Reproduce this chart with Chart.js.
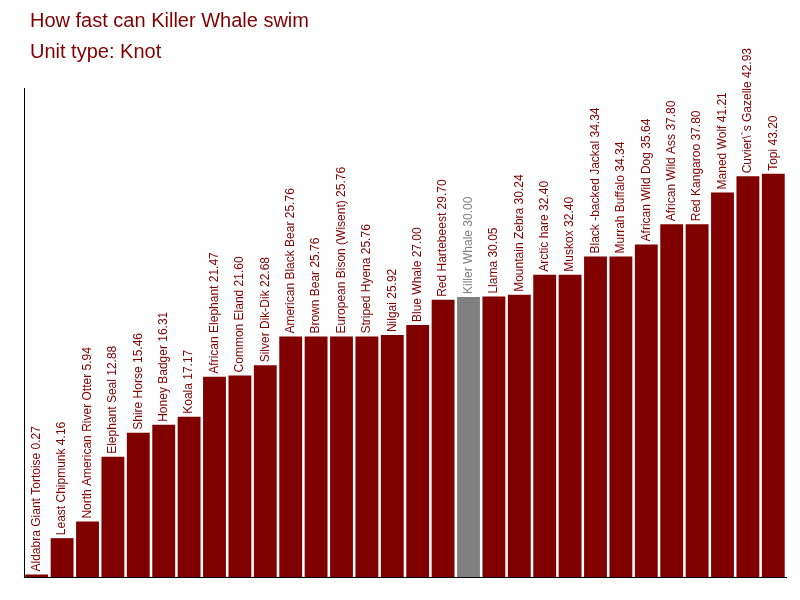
<!DOCTYPE html>
<html>
<head>
<meta charset="utf-8">
<script src="https://cdn.jsdelivr.net/npm/chart.js@4/dist/chart.umd.min.js"></script>
<style>
  body { margin: 0; background: #fff; font-family: "Liberation Sans", Arial, sans-serif; }
  #wrap { position: relative; width: 800px; height: 600px; }
  .t { position: absolute; left: 30px; color: #800000; font-size: 20px; }
</style>
</head>
<body>
<div id="wrap">
  <canvas id="c" width="800" height="600"></canvas>
  <div class="t" style="top:9px">How fast can Killer Whale swim</div>
  <div class="t" style="top:40px">Unit type: Knot</div>
</div>
<script>
const animals = ["Aldabra Giant Tortoise","Least Chipmunk","North American River Otter","Elephant Seal","Shire Horse","Honey Badger","Koala","African Elephant","Common Eland","Silver Dik-Dik","American Black Bear","Brown Bear","European Bison (Wisent)","Striped Hyena","Nilgai","Blue Whale","Red Hartebeest","Killer Whale","Llama","Mountain Zebra","Arctic hare","Muskox","Black -backed Jackal","Murrah Buffalo","African Wild Dog","African Wild Ass","Red Kangaroo","Maned Wolf","Cuvier\\`s Gazelle","Topi"];
const speeds = [0.27,4.16,5.94,12.88,15.46,16.31,17.17,21.47,21.60,22.68,25.76,25.76,25.76,25.76,25.92,27.00,29.70,30.00,30.05,30.24,32.40,32.40,34.34,34.34,35.64,37.80,37.80,41.21,42.93,43.20];
const highlight = "Killer Whale";

const colors = animals.map(a => a === highlight ? "#808080" : "#800000");

//Etiquetas verticales encima de cada barra
const barLabels = {
  id: "barLabels",
  afterDatasetsDraw(chart) {
    const ctx = chart.ctx;
    const meta = chart.getDatasetMeta(0);
    ctx.save();
    ctx.font = "12px 'Liberation Sans', Arial, sans-serif";
    ctx.textBaseline = "middle";
    meta.data.forEach((bar, i) => {
      ctx.save();
      ctx.translate(bar.x, bar.y - 3);
      ctx.rotate(-Math.PI / 2);
      ctx.fillStyle = colors[i];
      ctx.fillText(animals[i] + " " + speeds[i].toFixed(2), 0, 0);
      ctx.restore();
    });
    ctx.restore();
  }
};

new Chart(document.querySelector("#c"), {
  type: "bar",
  data: {
    labels: animals,
    datasets: [{ data: speeds, backgroundColor: colors }]
  },
  options: {
    responsive: false,
    animation: false,
    layout: { padding: { left: 16, right: 14, top: 88, bottom: 15 } },
    plugins: { legend: { display: false }, tooltip: { enabled: false } },
    datasets: { bar: { categoryPercentage: 0.9, barPercentage: 1 } },
    scales: {
      x: { ticks: { display: false }, grid: { display: false }, border: { color: "#000" } },
      y: { min: 0, max: 52.4, ticks: { display: false }, grid: { display: false }, border: { color: "#000" } }
    }
  },
  plugins: [barLabels]
});
</script>
</body>
</html>
